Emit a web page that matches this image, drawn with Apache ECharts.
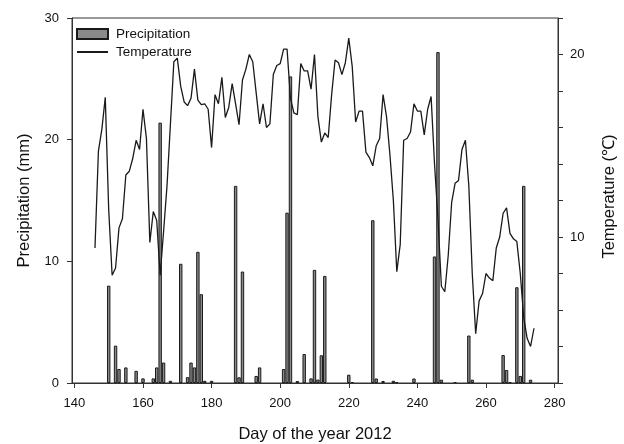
<!DOCTYPE html>
<html>
<head>
<meta charset="utf-8">
<title>Precipitation and temperature 2012</title>
<script src="https://cdn.jsdelivr.net/npm/echarts@6/dist/echarts.min.js"></script>
<style>
  html, body { margin: 0; padding: 0; background: #fff; }
  #main { width: 624px; height: 444px; }
</style>
</head>
<body>
<div id="main"></div>
<script>
// day ticks on the x axis
var xTicks = [140, 160, 180, 200, 220, 240, 260, 280];

// daily precipitation (mm), only the days with rain
var precipDays = [150, 152, 153, 155, 158, 160, 163, 164, 165, 166, 168, 171, 173, 174, 175, 176, 177, 178, 180,
    187, 188, 189, 193, 194, 201, 202, 203, 205, 207, 209, 210, 211, 212, 213, 220, 221, 227, 228, 230, 233, 234,
    239, 245, 246, 247, 251, 255, 256, 265, 266, 267, 269, 270, 271, 273];
var precipValues = [8.0, 3.07, 1.15, 1.28, 1.0, 0.38, 0.38, 1.28, 21.4, 1.68, 0.18, 9.8, 0.48, 1.68, 1.28, 10.78, 7.3, 0.18, 0.18,
    16.2, 0.47, 9.16, 0.58, 1.28, 1.15, 14.0, 25.2, 0.16, 2.38, 0.38, 9.3, 0.28, 2.28, 8.8, 0.68, 0.08, 13.38, 0.37, 0.16, 0.18, 0.08,
    0.37, 10.4, 27.2, 0.27, 0.08, 3.9, 0.27, 2.3, 1.07, 0.08, 7.87, 0.58, 16.2, 0.27];

// daily mean temperature, one value per day from day 146
var tempFirstDay = 146;
var tempValues = [
    9.4, 14.7, 15.9, 17.65, 11.5, 7.9, 8.3, 10.5, 11.0, 13.4,
    13.6, 14.3, 15.3, 14.8, 17.0, 15.4, 9.7, 11.4, 10.9, 7.9,
    10.3, 12.8, 16.2, 19.6, 19.8, 18.25, 17.4, 17.2, 17.6, 19.2,
    17.5, 17.25, 17.3, 17.0, 14.9, 17.8, 17.3, 18.75, 16.55, 17.1,
    18.4, 17.3, 16.15, 18.6, 19.2, 20.0, 19.6, 17.9, 16.2, 17.3,
    16.0, 16.2, 18.9, 19.4, 19.5, 20.3, 20.3, 17.6, 16.8, 16.7,
    19.5, 19.1, 19.1, 18.1, 20.0, 16.6, 15.2, 15.7, 15.45, 17.8,
    19.7, 19.55, 18.9, 19.55, 20.9, 19.35, 16.3, 16.9, 16.9, 14.65,
    14.35, 13.9, 15.0, 15.4, 17.8, 16.6, 14.5, 12.0, 8.1, 9.6,
    15.3, 15.4, 15.75, 17.3, 16.9, 16.9, 15.6, 17.0, 17.7, 14.0,
    11.0, 7.3, 7.0, 9.0, 11.9, 12.95, 13.1, 14.8, 15.3, 12.8,
    8.0, 4.7, 6.5, 6.9, 8.0, 7.75, 7.6, 9.4, 10.0, 11.3,
    11.6, 10.2, 9.9, 9.75, 8.0, 5.6, 4.45, 4.0, 5.0
];

var font = 'Liberation Sans, Arial, sans-serif';
var axisColor = '#333';

var precipData = [];
for (var i = 0; i < precipDays.length; i++) {
    precipData.push([precipDays[i], precipValues[i]]);
}
var tempData = [];
for (var j = 0; j < tempValues.length; j++) {
    tempData.push([tempFirstDay + j, tempValues[j]]);
}

var myChart = echarts.init(document.getElementById('main'), null, {renderer: 'canvas'});

var option = {
    animation: false,
    backgroundColor: '#fff',
    grid: {
        left: 72,
        right: 66,
        top: 18,
        bottom: 61,
        outerBoundsMode: 'none',
        show: true,
        borderColor: axisColor,
        borderWidth: 1,
        backgroundColor: 'transparent'
    },
    legend: {
        left: 76,
        top: 27,
        padding: 0,
        orient: 'vertical',
        align: 'left',
        itemWidth: 31,
        itemHeight: 10,
        itemGap: 4,
        textStyle: {fontFamily: font, fontSize: 13.5, color: '#111', padding: [0, 0, 0, 3]},
        data: [
            {name: 'Precipitation', icon: 'rect'},
            {name: 'Temperature', itemStyle: {opacity: 0}}
        ]
    },
    xAxis: {
        type: 'value',
        min: 139.3,
        max: 281,
        name: 'Day of the year 2012',
        nameLocation: 'middle',
        nameGap: 43,
        nameTextStyle: {fontFamily: font, fontSize: 16.5, color: '#111'},
        splitLine: {show: false},
        axisLine: {show: true, lineStyle: {color: axisColor, width: 1}},
        axisTick: {show: true, length: 5, customValues: xTicks, lineStyle: {color: axisColor}},
        axisLabel: {customValues: xTicks, margin: 14, fontFamily: font, fontSize: 13, color: '#111'}
    },
    yAxis: [
        {
            type: 'value',
            position: 'left',
            min: 0,
            max: 30,
            interval: 10,
            name: 'Precipitation (mm)',
            nameLocation: 'middle',
            nameRotate: 90,
            nameGap: 39,
            nameTextStyle: {fontFamily: font, fontSize: 16.5, color: '#111'},
            splitLine: {show: false},
            axisLine: {show: true, lineStyle: {color: axisColor, width: 1}},
            axisTick: {show: true, length: 5, lineStyle: {color: axisColor}},
            axisLabel: {margin: 13, fontFamily: font, fontSize: 13, color: '#111'}
        },
        {
            type: 'value',
            position: 'right',
            min: 2,
            max: 22,
            interval: 2,
            name: 'Temperature (℃)',
            nameLocation: 'middle',
            nameRotate: 90,
            nameGap: 43,
            nameTextStyle: {fontFamily: font, fontSize: 16.5, color: '#111', padding: [0, 0, 0, 8]},
            splitLine: {show: false},
            axisLine: {show: true, lineStyle: {color: axisColor, width: 1}},
            axisTick: {show: true, length: 5, lineStyle: {color: axisColor}},
            axisLabel: {
                margin: 12,
                fontFamily: font,
                fontSize: 13,
                color: '#111',
                formatter: function (v) {
                    return v % 10 === 0 ? String(v) : '';
                }
            }
        }
    ],
    series: [
        {
            name: 'Precipitation',
            type: 'bar',
            yAxisIndex: 0,
            barWidth: 3.4,
            data: precipData,
            itemStyle: {color: '#8a8a8a', borderColor: '#1a1a1a', borderWidth: 1},
            z: 2
        },
        {
            name: 'Temperature',
            type: 'line',
            yAxisIndex: 1,
            data: tempData,
            symbol: 'none',
            lineStyle: {color: '#1a1a1a', width: 1.3},
            itemStyle: {color: '#1a1a1a'},
            z: 3
        }
    ]
};

myChart.setOption(option);
</script>
</body>
</html>
